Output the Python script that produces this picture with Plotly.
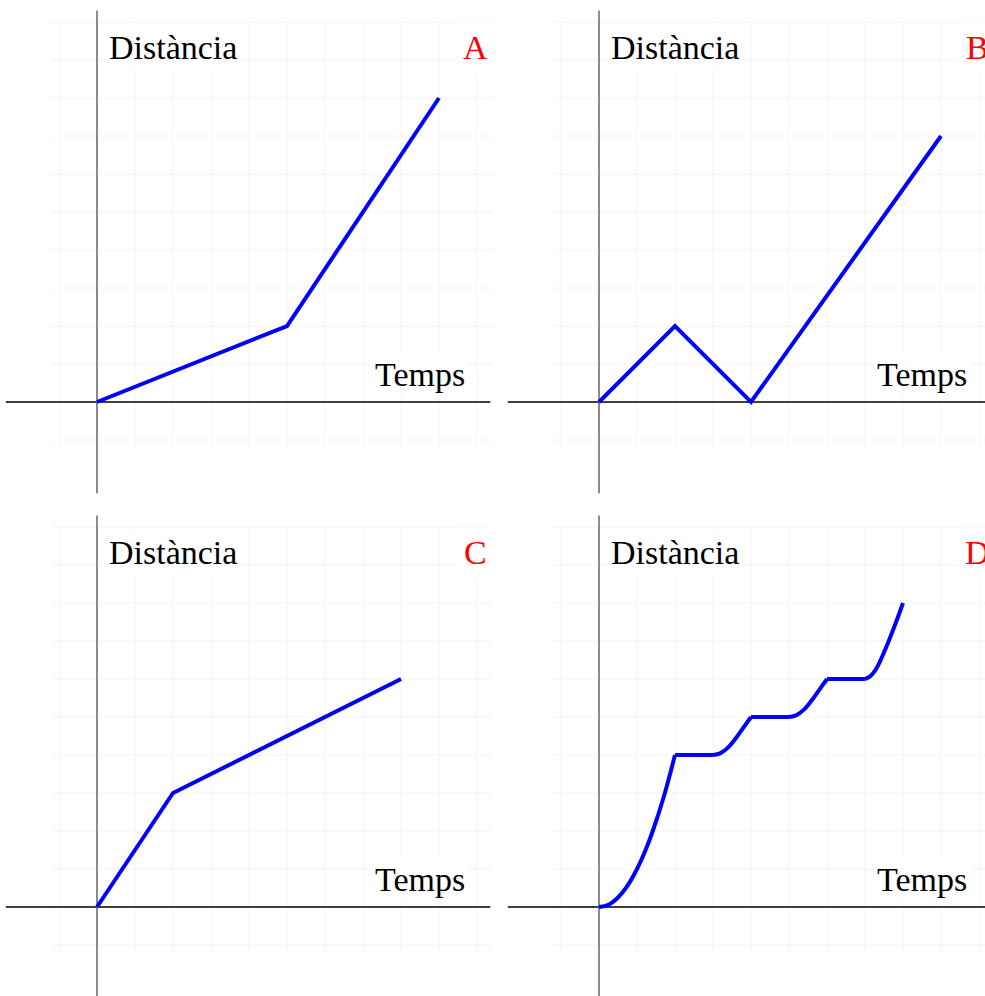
import plotly.graph_objects as go

# Gràfiques distància-temps (quatre casos)
a_temps = [0, 5, 9]
a_dist = [0, 2, 8]

b_temps = [0, 2, 4, 9]
b_dist = [0, 2, 0, 7]

c_temps = [0, 2, 8]
c_dist = [0, 3, 6]

# Cas D: trams d'acceleració (corbes) i trams aturats (plans)
d_corba1_t = [0, 0.25, 0.5, 0.75, 1, 1.25, 1.5, 1.75, 2]
d_corba1_d = [0, 0.06, 0.25, 0.56, 1, 1.56, 2.25, 3.06, 4]
d_corba2_t = [3, 3.2, 3.4, 3.6, 3.8, 4]
d_corba2_d = [4, 4.05, 4.2, 4.44, 4.72, 5]
d_corba3_t = [5, 5.2, 5.4, 5.6, 5.8, 6]
d_corba3_d = [5, 5.05, 5.2, 5.44, 5.72, 6]
d_corba4_t = [7, 7.125, 7.25, 7.375, 7.5, 7.625, 7.75, 7.875, 8]
d_corba4_d = [6, 6.06, 6.2, 6.42, 6.7, 7.0, 7.32, 7.65, 8]
d_pla_t = [[2, 3], [4, 5], [6, 7]]
d_pla_d = [[4, 4], [5, 5], [6, 6]]

lletres = ["A", "B", "C", "D"]
eix_y = "Distància"
eix_x = "Temps"

BLAU = "#0000ff"
FONT = "Liberation Serif"
MIDA = 34

fig = go.Figure()

# (xref, yref) de cada panell
panells = [("x", "y"), ("x2", "y2"), ("x3", "y3"), ("x4", "y4")]


def linia(t, d, k, forma="linear"):
    xr, yr = panells[k]
    fig.add_trace(go.Scatter(
        x=t, y=d, mode="lines",
        line=dict(color=BLAU, width=4, shape=forma, smoothing=1),
        xaxis=xr, yaxis=yr, showlegend=False, hoverinfo="skip"))


linia(a_temps, a_dist, 0)
linia(b_temps, b_dist, 1)
linia(c_temps, c_dist, 2)
for t, d in [(d_corba1_t, d_corba1_d), (d_corba2_t, d_corba2_d),
             (d_corba3_t, d_corba3_d), (d_corba4_t, d_corba4_d)]:
    linia(t, d, 3, "spline")
for t, d in zip(d_pla_t, d_pla_d):
    linia(t, d, 3)

shapes = []
annotations = []
GX0, GX1, GY0, GY1 = -1.2, 10.4, -1.2, 10.0
for k, (xr, yr) in enumerate(panells):
    # quadrícula suau
    for i in range(-1, 11):
        shapes.append(dict(type="line", xref=xr, yref=yr, x0=i, x1=i, y0=GY0, y1=GY1,
                           line=dict(color="rgb(244,244,244)", width=1), layer="below"))
        shapes.append(dict(type="line", xref=xr, yref=yr, x0=GX0, x1=GX1, y0=i, y1=i,
                           line=dict(color="rgb(244,244,244)", width=1), layer="below"))
    # eixos
    shapes.append(dict(type="line", xref=xr, yref=yr, x0=-2.4, x1=10.35, y0=0, y1=0,
                       line=dict(color="black", width=1.3), layer="below"))
    shapes.append(dict(type="line", xref=xr, yref=yr, x0=0, x1=0, y0=-2.4, y1=10.3,
                       line=dict(color="rgb(110,110,110)", width=1.6), layer="below"))
    # rètols
    annotations.append(dict(xref=xr, yref=yr, x=0.2, y=9.32, text=eix_y, showarrow=False,
                            xanchor="left", yanchor="middle", bgcolor="white", borderpad=3,
                            font=dict(family=FONT, size=MIDA, color="black")))
    annotations.append(dict(xref=xr, yref=yr, x=9.78, y=0.73, text=eix_x, showarrow=False,
                            xanchor="right", yanchor="middle", bgcolor="white", borderpad=3,
                            font=dict(family=FONT, size=MIDA, color="black")))
    annotations.append(dict(xref=xr, yref=yr, x=9.97, y=9.32, text=lletres[k], showarrow=False,
                            xanchor="center", yanchor="middle", bgcolor="white", borderpad=6,
                            font=dict(family=FONT, size=MIDA, color="red")))

W, H = 985, 996
U = 38.0  # píxels per unitat
rx_esq = [-97 / U, (W / 2 - 97) / U]
rx_dre = [(W / 2 - 599) / U, (W - 599) / U]
ry_dalt = [(402 - H / 2) / U, 402 / U]
ry_baix = [(907 - H) / U, (907 - H / 2) / U]

eix = dict(visible=False, showgrid=False, zeroline=False, fixedrange=True)
fig.update_layout(
    width=W, height=H,
    margin=dict(l=0, r=0, t=0, b=0, pad=0),
    paper_bgcolor="white", plot_bgcolor="white",
    xaxis=dict(domain=[0, 0.5], range=rx_esq, anchor="y", **eix),
    yaxis=dict(domain=[0.5, 1], range=ry_dalt, anchor="x", **eix),
    xaxis2=dict(domain=[0.5, 1], range=rx_dre, anchor="y2", **eix),
    yaxis2=dict(domain=[0.5, 1], range=ry_dalt, anchor="x2", **eix),
    xaxis3=dict(domain=[0, 0.5], range=rx_esq, anchor="y3", **eix),
    yaxis3=dict(domain=[0, 0.5], range=ry_baix, anchor="x3", **eix),
    xaxis4=dict(domain=[0.5, 1], range=rx_dre, anchor="y4", **eix),
    yaxis4=dict(domain=[0, 0.5], range=ry_baix, anchor="x4", **eix),
    shapes=shapes,
    annotations=annotations,
)

fig.write_html("out.html")
